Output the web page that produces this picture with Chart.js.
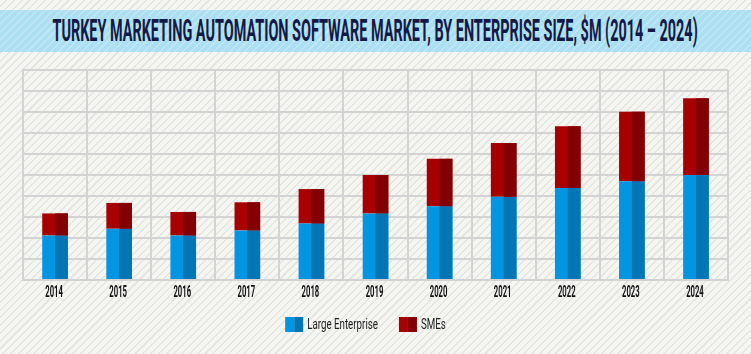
<!DOCTYPE html>
<html>
<head>
<meta charset="utf-8">
<script src="https://cdn.jsdelivr.net/npm/chart.js@4.4.0/dist/chart.umd.min.js"></script>
<style>
  html, body { margin: 0; padding: 0; }
  body {
    width: 751px; height: 354px; overflow: hidden; position: relative;
    background: repeating-linear-gradient(135deg, #f5f5f1 0px, #f5f5f1 4px, #e6e6e1 4px, #e6e6e1 5.5px);
  }
  #band {
    position: absolute; left: 0; top: 10px; width: 751px; height: 42px;
    background: repeating-linear-gradient(135deg, #abdff1 0px, #abdff1 4px, #bde7f5 4px, #bde7f5 5.5px);
  }
  #title {
    position: absolute; left: 375px; top: 10px; height: 42px; line-height: 42px;
    color: #141a45; font-weight: bold; white-space: nowrap;
    font-family: Roboto, "Liberation Sans", sans-serif; font-size: 31px;
    transform-origin: center;
  }
  #wrap { position: absolute; left: 0; top: 0; width: 751px; height: 354px; }
</style>
</head>
<body>
<div id="band"></div>
<div id="title">TURKEY MARKETING AUTOMATION SOFTWARE MARKET, BY ENTERPRISE SIZE, $M (2014 – 2024)</div>
<div id="wrap"><canvas id="chart" width="751" height="354"></canvas></div>
<script>
const years = ['2014', '2015', '2016', '2017', '2018', '2019', '2020', '2021', '2022', '2023', '2024'];
const largeEnterprise = [21.2, 24.4, 21.2, 23.6, 26.9, 31.7, 35.1, 39.6, 43.8, 47.0, 50.0];
const smes = [10.5, 12.3, 11.2, 13.4, 16.4, 18.3, 22.6, 25.6, 29.4, 33.1, 36.5];

// squeeze the title into a condensed look
const title = document.getElementById('title');
const tw = title.offsetWidth;
title.style.transform = 'translateX(' + (-tw / 2) + 'px) scaleX(' + (645 / tw) + ')';
title.style.transformOrigin = (tw / 2) + 'px 50%';

// draw text horizontally squeezed (no condensed font installed)
function narrowText(ctx, text, x, y, font, color, sx, align) {
    ctx.save();
    ctx.font = font;
    ctx.fillStyle = color;
    ctx.textBaseline = 'middle';
    ctx.textAlign = align;
    ctx.translate(x, y);
    ctx.scale(sx, 1);
    ctx.fillText(text, 0, 0);
    ctx.restore();
}

// two-tone bars, condensed year labels and legend
const extras = {
    id: 'extras',
    afterDatasetsDraw(chart) {
        const ctx = chart.ctx;
        chart.data.datasets.forEach((ds, i) => {
            chart.getDatasetMeta(i).data.forEach(el => {
                const p = el.getProps(['x', 'y', 'base', 'width'], true);
                ctx.fillStyle = ds.darkColor;
                ctx.fillRect(p.x, Math.min(p.y, p.base), p.width / 2, Math.abs(p.base - p.y));
            });
        });
    },
    afterDraw(chart) {
        const ctx = chart.ctx;
        const xs = chart.scales.x;
        const labelY = xs.bottom + 13;
        chart.data.labels.forEach((lab, i) => {
            narrowText(ctx, lab, xs.getPixelForTick(i) - 1, labelY, 'bold 16px Roboto', '#111', 0.48, 'center');
        });

        // legend under the plot (sits a little left of centre)
        const font = '15px Roboto', sx = 0.65, box = 18, gap = 4, spacing = 21;
        ctx.font = font;
        const items = chart.data.datasets.map(ds => ({ ds, w: box + gap + ctx.measureText(ds.label).width * sx }));
        const total = items.reduce((s, it) => s + it.w, 0) + spacing * (items.length - 1);
        let x = (chart.chartArea.left + chart.chartArea.right) / 2 - 10 - total / 2;
        const ly = 324;
        items.forEach(it => {
            ctx.fillStyle = it.ds.backgroundColor;
            ctx.fillRect(x, ly - 7, box / 2, 15);
            ctx.fillStyle = it.ds.darkColor;
            ctx.fillRect(x + box / 2, ly - 7, box / 2, 15);
            narrowText(ctx, it.ds.label, x + box + gap, ly + 1, font, '#222', sx, 'left');
            x += it.w + spacing;
        });
    }
};

new Chart(document.getElementById('chart'), {
    type: 'bar',
    data: {
        labels: years,
        datasets: [
            { label: 'Large Enterprise', data: largeEnterprise, backgroundColor: '#0195e3', darkColor: '#0277b4' },
            { label: 'SMEs', data: smes, backgroundColor: '#a80000', darkColor: '#830000' }
        ]
    },
    options: {
        responsive: false,
        animation: false,
        layout: { padding: { top: 70, left: 23, right: 23, bottom: 74 } },
        datasets: { bar: { categoryPercentage: 1, barPercentage: 0.4 } },
        scales: {
            x: {
                stacked: true,
                grid: { color: '#d3d3d3', lineWidth: 2, drawTicks: false },
                border: { color: '#d3d3d3', width: 2 },
                ticks: { display: false }
            },
            y: {
                stacked: true,
                min: 0,
                max: 100,
                ticks: { display: false, stepSize: 10 },
                grid: { color: '#d3d3d3', lineWidth: 2, drawTicks: false },
                border: { color: '#d3d3d3', width: 2 }
            }
        },
        plugins: {
            legend: { display: false },
            tooltip: { enabled: false }
        }
    },
    plugins: [extras]
});
</script>
</body>
</html>
